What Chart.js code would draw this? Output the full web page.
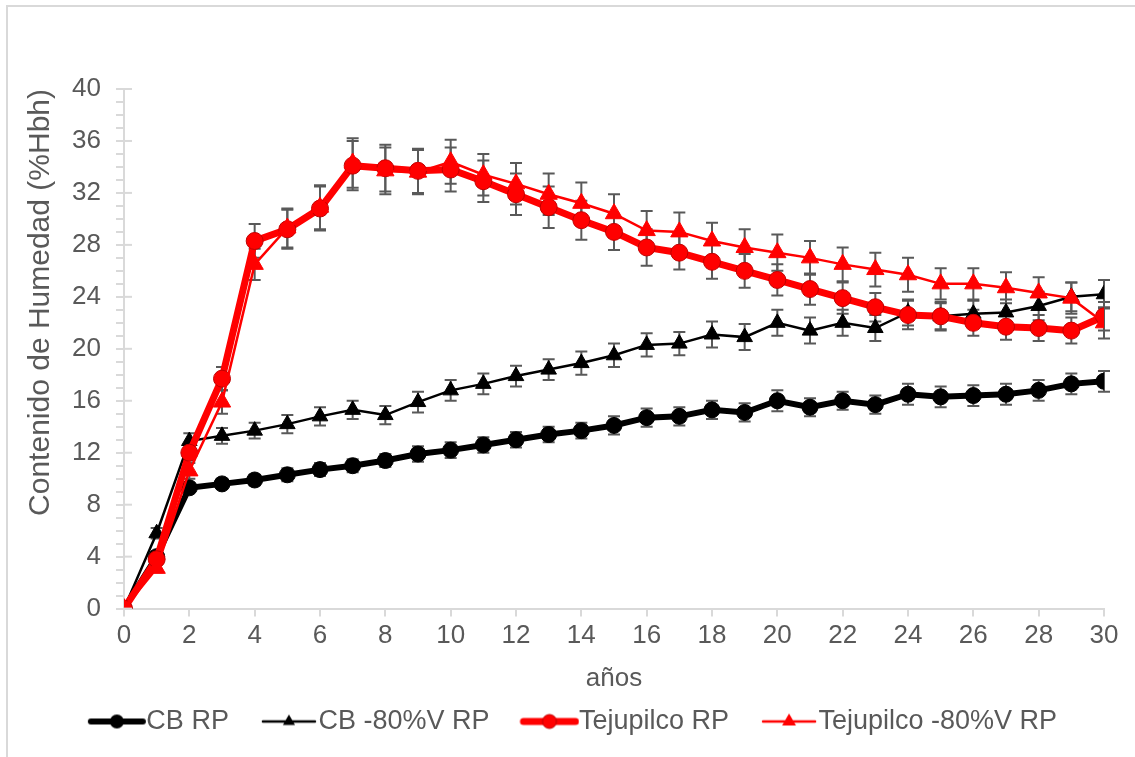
<!DOCTYPE html>
<html>
<head>
<meta charset="utf-8">
<script src="https://cdn.jsdelivr.net/npm/chart.js@4/dist/chart.umd.min.js"></script>
<style>
body { margin: 0; background: #fff; }
#frame { position: absolute; left: 6px; top: 5px; width: 1140px; height: 770px;
  border-left: 2px solid #d9d9d9; border-top: 2px solid #d9d9d9; }
#wrap { position: absolute; left: 0; top: 0; width: 1135px; height: 757px; }
</style>
</head>
<body>
<div id="frame"></div>
<div id="wrap"><canvas id="chart" width="1135" height="757"></canvas></div>
<script>
// years on the x axis
var years = [0,1,2,3,4,5,6,7,8,9,10,11,12,13,14,15,16,17,18,19,20,21,22,23,24,25,26,27,28,29,30];

// moisture content (%Hbh) per series
var cbRP  = [0, 4.0, 9.3, 9.6, 9.9, 10.3, 10.7, 11.0, 11.4, 11.9, 12.2, 12.6, 13.0, 13.4, 13.7, 14.1, 14.7, 14.8, 15.3, 15.1, 16.0, 15.5, 16.0, 15.7, 16.5, 16.3, 16.4, 16.5, 16.8, 17.3, 17.5];
var cb80  = [0, 5.8, 12.9, 13.3, 13.7, 14.2, 14.8, 15.3, 14.9, 15.9, 16.8, 17.3, 17.9, 18.4, 18.9, 19.5, 20.3, 20.4, 21.1, 20.9, 22.0, 21.4, 22.0, 21.6, 22.8, 22.5, 22.7, 22.8, 23.3, 24.0, 24.2];
var tejRP = [0, 3.8, 12.0, 17.7, 28.3, 29.2, 30.8, 34.1, 33.9, 33.7, 33.8, 32.9, 31.9, 30.9, 29.9, 29.0, 27.8, 27.4, 26.7, 26.0, 25.3, 24.6, 23.9, 23.2, 22.6, 22.5, 22.0, 21.7, 21.6, 21.4, 22.5];
var tej80 = [0, 3.1, 10.6, 15.9, 26.5, 29.3, 30.9, 34.3, 33.7, 33.6, 34.4, 33.4, 32.7, 31.9, 31.2, 30.4, 29.1, 29.0, 28.3, 27.8, 27.4, 27.0, 26.5, 26.1, 25.7, 25.0, 25.0, 24.7, 24.3, 23.9, 22.0];

// error bar half-widths
var cbRPErr  = [0, 0.3, 0.3, 0.4, 0.4, 0.5, 0.5, 0.5, 0.5, 0.6, 0.6, 0.6, 0.6, 0.6, 0.6, 0.7, 0.7, 0.7, 0.7, 0.7, 0.8, 0.7, 0.7, 0.7, 0.8, 0.8, 0.8, 0.8, 0.8, 0.8, 0.8];
var cb80Err  = [0, 0.4, 0.6, 0.6, 0.6, 0.7, 0.7, 0.7, 0.7, 0.8, 0.8, 0.8, 0.8, 0.8, 0.9, 0.9, 0.9, 0.9, 1.0, 1.0, 1.0, 1.0, 1.0, 1.0, 1.0, 1.0, 1.0, 1.0, 1.1, 1.1, 1.1];
var tejRPErr = [0, 0.3, 0.6, 0.9, 1.3, 1.5, 1.7, 1.9, 1.8, 1.7, 1.7, 1.6, 1.6, 1.6, 1.5, 1.4, 1.4, 1.3, 1.3, 1.3, 1.2, 1.2, 1.2, 1.1, 1.1, 1.1, 1.0, 1.0, 1.0, 1.0, 1.1];
var tej80Err = [0, 0.3, 0.6, 0.9, 1.2, 1.5, 1.7, 1.9, 1.8, 1.7, 1.7, 1.6, 1.6, 1.6, 1.6, 1.5, 1.5, 1.5, 1.4, 1.4, 1.4, 1.3, 1.3, 1.3, 1.3, 1.2, 1.2, 1.2, 1.2, 1.2, 1.2];

var labels = ['CB RP', 'CB -80%V RP', 'Tejupilco RP', 'Tejupilco -80%V RP'];

var grey = '#595959';
var axisGrey = '#d9d9d9';

function points(vals) {
	var out = [];
	for (var i = 0; i < years.length; i++) out.push({x: years[i], y: vals[i]});
	return out;
}

// legend sample: line with marker, like the office chart
function legendIcon(color, lw, shape, r, border) {
	var c = document.createElement('canvas');
	c.width = 94; c.height = 24;
	var g = c.getContext('2d');
	var x0 = 13 + 23, cx = x0 + 28, cy = 12;
	g.strokeStyle = color; g.lineWidth = lw; g.lineCap = 'round';
	g.beginPath(); g.moveTo(x0 + 2, cy); g.lineTo(x0 + 54, cy); g.stroke();
	g.fillStyle = color;
	g.beginPath();
	if (shape == 'circle') {
		g.arc(cx, cy, r, 0, Math.PI * 2);
	} else {
		g.moveTo(cx, cy - r);
		g.lineTo(cx + r * 0.866, cy + r * 0.5);
		g.lineTo(cx - r * 0.866, cy + r * 0.5);
		g.closePath();
	}
	g.fill();
	if (border) { g.strokeStyle = border; g.lineWidth = 1; g.stroke(); }
	return c;
}

var icons = [
	legendIcon('#000000', 6, 'circle', 7, null),
	legendIcon('#000000', 2.5, 'triangle', 7, null),
	legendIcon('#ff0000', 7, 'circle', 7, '#c00000'),
	legendIcon('#ff0000', 2.5, 'triangle', 8, null)
];

var errorBars = {
	id: 'errorBars',
	beforeDatasetsDraw: function(chart) {
		var ctx = chart.ctx, xs = chart.scales.x, ys = chart.scales.y;
		ctx.save();
		ctx.strokeStyle = grey;
		ctx.lineWidth = 2;
		chart.data.datasets.forEach(function(ds) {
			ds.errors.forEach(function(e, i) {
				if (!e) return;
				var px = xs.getPixelForValue(years[i]);
				var top = ys.getPixelForValue(ds.values[i] + e);
				var bot = ys.getPixelForValue(ds.values[i] - e);
				ctx.beginPath();
				ctx.moveTo(px, top); ctx.lineTo(px, bot);
				ctx.moveTo(px - 6, top); ctx.lineTo(px + 6, top);
				ctx.moveTo(px - 6, bot); ctx.lineTo(px + 6, bot);
				ctx.stroke();
			});
		});
		ctx.restore();
	}
};

// major y ticks cross the axis line
var majorTicks = {
	id: 'majorTicks',
	afterDraw: function(chart) {
		var ctx = chart.ctx, ys = chart.scales.y;
		ctx.save();
		ctx.strokeStyle = axisGrey;
		ctx.lineWidth = 2;
		for (var v = 0; v <= 40; v += 4) {
			var py = ys.getPixelForValue(v);
			ctx.beginPath();
			ctx.moveTo(ys.right, py); ctx.lineTo(ys.right + 8, py);
			ctx.stroke();
		}
		ctx.restore();
	}
};

var datasets = [
	{
		label: labels[0], data: points(cbRP), values: cbRP, errors: cbRPErr,
		borderColor: '#000000', backgroundColor: '#000000', borderWidth: 6,
		pointStyle: 'circle', pointRadius: 8, pointBackgroundColor: '#000000',
		pointBorderColor: '#000000', pointBorderWidth: 1, order: 4
	},
	{
		label: labels[1], data: points(cb80), values: cb80, errors: cb80Err,
		borderColor: '#000000', backgroundColor: '#000000', borderWidth: 2.5,
		pointStyle: 'triangle', pointRadius: 9, pointBackgroundColor: '#000000',
		pointBorderColor: '#000000', pointBorderWidth: 1, order: 3
	},
	{
		label: labels[2], data: points(tejRP), values: tejRP, errors: tejRPErr,
		borderColor: '#ff0000', backgroundColor: '#ff0000', borderWidth: 7,
		pointStyle: 'circle', pointRadius: 8.5, pointBackgroundColor: '#ff0000',
		pointBorderColor: '#c00000', pointBorderWidth: 1, order: 2
	},
	{
		label: labels[3], data: points(tej80), values: tej80, errors: tej80Err,
		borderColor: '#ff0000', backgroundColor: '#ff0000', borderWidth: 2.5,
		pointStyle: 'triangle', pointRadius: 10, pointBackgroundColor: '#ff0000',
		pointBorderColor: '#ff0000', pointBorderWidth: 1, order: 1
	}
];

Chart.defaults.font.family = '"Liberation Sans", Arial, sans-serif';
Chart.defaults.color = grey;

var ctx = document.getElementById('chart').getContext('2d');
var chart = new Chart(ctx, {
	type: 'line',
	data: { datasets: datasets },
	options: {
		responsive: false,
		animation: false,
		layout: { padding: { left: 20, top: 89, right: 31, bottom: 12 } },
		elements: { line: { tension: 0 } },
		plugins: {
			tooltip: { enabled: false },
			legend: {
				position: 'bottom',
				labels: {
					usePointStyle: true,
					pointStyleWidth: 66,
					padding: 10,
					color: grey,
					font: { size: 27 },
					generateLabels: function(ch) {
						return ch.data.datasets.map(function(ds, i) {
							return { text: ds.label, pointStyle: icons[i], datasetIndex: i,
								fillStyle: 'transparent', strokeStyle: 'transparent', lineWidth: 0, fontColor: grey };
						});
					}
				}
			}
		},
		scales: {
			x: {
				type: 'linear', min: 0, max: 30,
				grid: { drawOnChartArea: false, drawTicks: true, tickLength: 8, color: axisGrey, lineWidth: 2 },
				border: { color: axisGrey, width: 2 },
				ticks: { stepSize: 2, padding: 4, font: { size: 26 }, color: grey, maxRotation: 0 },
				title: { display: true, text: 'años', font: { size: 26 }, color: grey, padding: { top: 7, bottom: 4 } }
			},
			y: {
				min: 0, max: 40,
				afterFit: function(s) { s.width = 104; },
				grid: { drawOnChartArea: false, drawTicks: true, tickLength: 8, color: axisGrey, lineWidth: 2 },
				border: { color: axisGrey, width: 2 },
				ticks: {
					stepSize: 1, autoSkip: false, padding: 15, font: { size: 26 }, color: grey,
					callback: function(v) { return v % 4 === 0 ? String(v) : ''; }
				},
				title: { display: true, text: 'Contenido de Humedad (%Hbh)', align: 'end', font: { size: 30 }, color: grey, padding: { top: 3, bottom: 4 } }
			}
		}
	},
	plugins: [errorBars, majorTicks]
});
</script>
</body>
</html>
